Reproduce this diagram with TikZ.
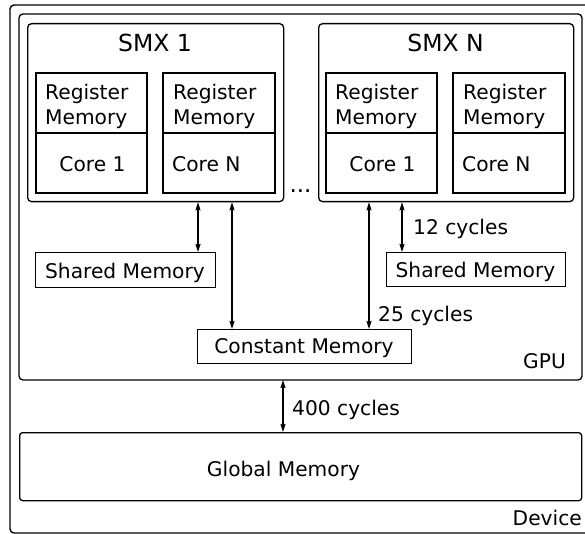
\documentclass[tikz,border=0pt]{standalone}
\usepackage{fontspec}
\setmainfont{DejaVu Sans}
\usetikzlibrary{arrows.meta}
\begin{document}
\begin{tikzpicture}[x=1pt,y=-1pt,
  frame/.style={draw,line width=1.3pt,rounded corners=4pt},
  sbox/.style={draw,line width=1.3pt},
  txt/.style={inner sep=0pt,font=\fontsize{20.2}{24}\selectfont},
  ttl/.style={inner sep=0pt,font=\fontsize{23.5}{28}\selectfont},
  arr/.style={line width=1.3pt,{Stealth[length=8pt,width=5pt,inset=1pt]}-{Stealth[length=8pt,width=5pt,inset=1pt]}}]
\useasboundingbox (0,0) rectangle (585,534);
\clip (0,0) rectangle (585,534);
% frames
\draw[frame,line width=1.4pt] (10,5) rectangle (592,533);
\draw[frame] (19,14) rectangle (582,380);
\coordinate (gpuS) at (283,380);
\node[frame,anchor=north west,minimum width=256pt,minimum height=178pt,inner sep=0pt] (smx1) at (27,23) {};
\node[frame,anchor=north west,minimum width=255pt,minimum height=178pt,inner sep=0pt] (smxN) at (318,23) {};
% inner boxes
\draw[sbox] (36,73) rectangle (147,193) (36,133) -- (147,133);
\draw[sbox] (163,73) rectangle (275,193) (163,133) -- (275,133);
\draw[sbox] (326,73) rectangle (437,193) (326,133) -- (437,133);
\draw[sbox] (453,73) rectangle (565,193) (453,133) -- (565,133);
% memory boxes
\node[sbox,anchor=north west,minimum width=180pt,minimum height=35pt,inner sep=0pt] (shl) at (35,252) {};
\node[sbox,anchor=north west,minimum width=179pt,minimum height=34pt,inner sep=0pt] (shr) at (386,252) {};
\node[sbox,anchor=north west,minimum width=214pt,minimum height=34pt,inner sep=0pt] (cst) at (197,329) {};
\node[draw,line width=1.3pt,rounded corners=3pt,anchor=north west,minimum width=562pt,minimum height=68pt,inner sep=0pt] (glb) at (19,432) {};
% texts
\node[ttl,anchor=base] (t1) at (155,52) {SMX 1};
\node[ttl,anchor=base] (t2) at (445.5,52) {SMX N};
\node[txt,anchor=base west] (r1a) at (45,100) {Register};
\node[txt,anchor=base west] (r1b) at (45,125) {Memory};
\node[txt,anchor=base west] (r2a) at (173,100) {Register};
\node[txt,anchor=base west] (r2b) at (173,125) {Memory};
\node[txt,anchor=base west] (r3a) at (335,100) {Register};
\node[txt,anchor=base west] (r3b) at (335,125) {Memory};
\node[txt,anchor=base west] (r4a) at (463,100) {Register};
\node[txt,anchor=base west] (r4b) at (463,125) {Memory};
\node[txt,anchor=base] (c1) at (92.5,172) {Core 1};
\node[txt,anchor=base west] (c2) at (172,172) {Core N};
\node[txt,anchor=base] (c3) at (382.5,172) {Core 1};
\node[txt,anchor=base west] (c4) at (462,172) {Core N};
\node[inner sep=0pt,font=\fontsize{23}{26}\selectfont,anchor=base] (dots) at (300.5,193) {...};
\node[txt,anchor=base] (shlt) at (125,278) {Shared Memory};
\node[txt,anchor=base] (shrt) at (475.5,277) {Shared Memory};
\node[txt,anchor=base] (cstt) at (304,353) {Constant Memory};
\node[txt,anchor=base] (glbt) at (283.5,476) {Global Memory};
\node[txt,anchor=base east] (gpul) at (566,368) {GPU};
\node[txt,anchor=base east] (devl) at (582,525) {Device};
\node[txt,anchor=base west] (l12) at (413,235) {12 cycles};
\node[txt,anchor=base west] (l25) at (378,321) {25 cycles};
\node[txt,anchor=base west] (l400) at (292,415) {400 cycles};
% arrows
\draw[arr] (198,0 |- smx1.south) -- (198,0 |- shl.north);
\draw[arr] (232,0 |- smx1.south) -- (232,0 |- cst.north);
\draw[arr] (369,0 |- smxN.south) -- (369,0 |- cst.north);
\draw[arr] (402,0 |- smxN.south) -- (402,0 |- shr.north);
\draw[arr] (gpuS) -- (gpuS |- glb.north);
\end{tikzpicture}
\end{document}
